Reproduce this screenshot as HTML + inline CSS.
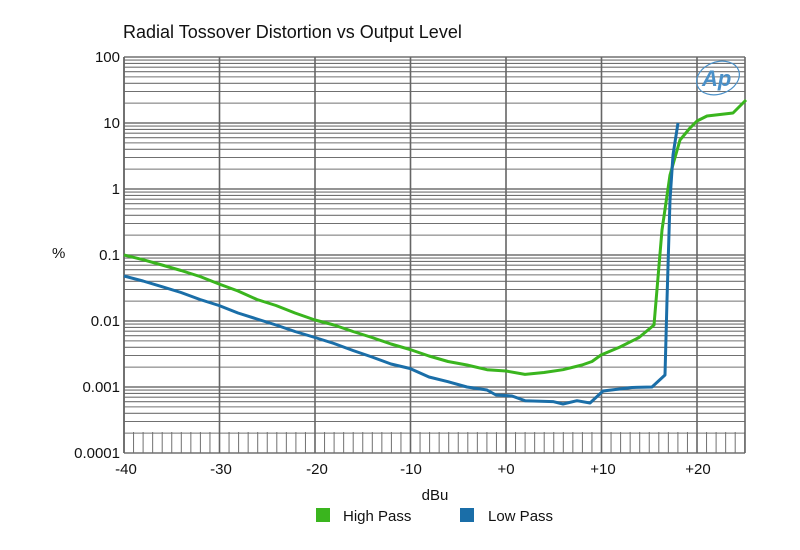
<!DOCTYPE html>
<html><head><style>
body{margin:0;background:#fff;}
svg{display:block;font-family:"Liberation Sans",Arial,sans-serif;}
</style></head><body>
<svg width="800" height="550" viewBox="0 0 800 550" xmlns="http://www.w3.org/2000/svg">
<rect width="800" height="550" fill="#fff"/>
<text x="123" y="38" font-size="18" fill="#111">Radial Tossover Distortion vs Output Level</text>
<g id="grid" stroke="#707070" stroke-width="1" fill="none"></g>
<polyline fill="none" stroke="#3ab51e" stroke-width="3" stroke-linejoin="round" points="124,255 143,259.7 162,265 181,270.5 200,276.5 219,284 238,291 257,299.5 276,305.5 295,313 315,320 334,325 353,331.5 372,337.5 391,344 410,349.5 429,356 448,361.5 467,365 487,369.7 506,371 525,374.4 544,372.5 563,369.7 582,365 592,361.5 601,355 620,347 639,337.5 654,325 662,230 670,175 680,140 690,128 697,121 707,116 733,113 746,100"/>
<polyline fill="none" stroke="#1a6ea8" stroke-width="3" stroke-linejoin="round" points="124,276 143,281 162,286.7 181,292.5 200,299.5 219,305.5 238,313 257,319 276,325 295,331.5 315,337.5 334,343.5 353,350.5 372,357 391,364 410,368.5 429,377 448,381.7 467,387 487,390 496,395 512,396 525,400.7 553,401.6 563,404 577,400.7 590,403 603,391 632,387.5 652,387 665,375 667,300 670,200 673,155 678,123"/>
<g font-size="15" fill="#111" text-anchor="end">
<text x="120" y="62">100</text><text x="120" y="128">10</text><text x="120" y="194">1</text>
<text x="120" y="260">0.1</text><text x="120" y="326">0.01</text><text x="120" y="392">0.001</text><text x="120" y="458">0.0001</text>
</g>
<text x="52" y="258" font-size="15" fill="#111">%</text>
<g font-size="15" fill="#111" text-anchor="middle">
<text x="126" y="474">-40</text><text x="221" y="474">-30</text><text x="317" y="474">-20</text><text x="411" y="474">-10</text>
<text x="506" y="474">+0</text><text x="603" y="474">+10</text><text x="698" y="474">+20</text>
<text x="435" y="500">dBu</text>
</g>
<rect x="316" y="508" width="14" height="14" fill="#3ab51e"/>
<text x="343" y="521" font-size="15" fill="#111">High Pass</text>
<rect x="460" y="508" width="14" height="14" fill="#1a6ea8"/>
<text x="488" y="521" font-size="15" fill="#111">Low Pass</text>
<g transform="translate(718,78)">
<ellipse cx="0" cy="0" rx="22" ry="16" fill="none" stroke="#4a90c8" stroke-width="1.2" transform="rotate(-20)"/>
<text x="-16" y="8" font-size="22" font-style="italic" font-weight="bold" fill="#4a90c8">Ap</text>
</g>
</svg>
<script>
(function(){
var ns="http://www.w3.org/2000/svg",g=document.getElementById('grid');
function ln(x1,y1,x2,y2,w,c){var l=document.createElementNS(ns,'line');l.setAttribute('x1',x1);l.setAttribute('y1',y1);l.setAttribute('x2',x2);l.setAttribute('y2',y2);l.setAttribute('stroke',c||'#707070');l.setAttribute('stroke-width',w||1);g.appendChild(l);}
var L=124,R=745,T=57,B=453;
for(var d=0;d<6;d++){var yb=B-66*d;
 for(var k=1;k<10;k++){var y=yb-66*Math.log10(k);ln(L,y,R,y,k==1?1.4:1.1);}}
ln(L,T,R,T,1.4);
for(var db=-40;db<=25;db++){var x=L+(db+40)*9.55;
 if(db%10==0) ln(x,T,x,B,1.6,'#666'); else ln(x,432,x,B,1);}
ln(L,T,L,B,1.6,'#666');ln(R,T,R,B,1.6,'#666');
})();
</script>
</body></html>
